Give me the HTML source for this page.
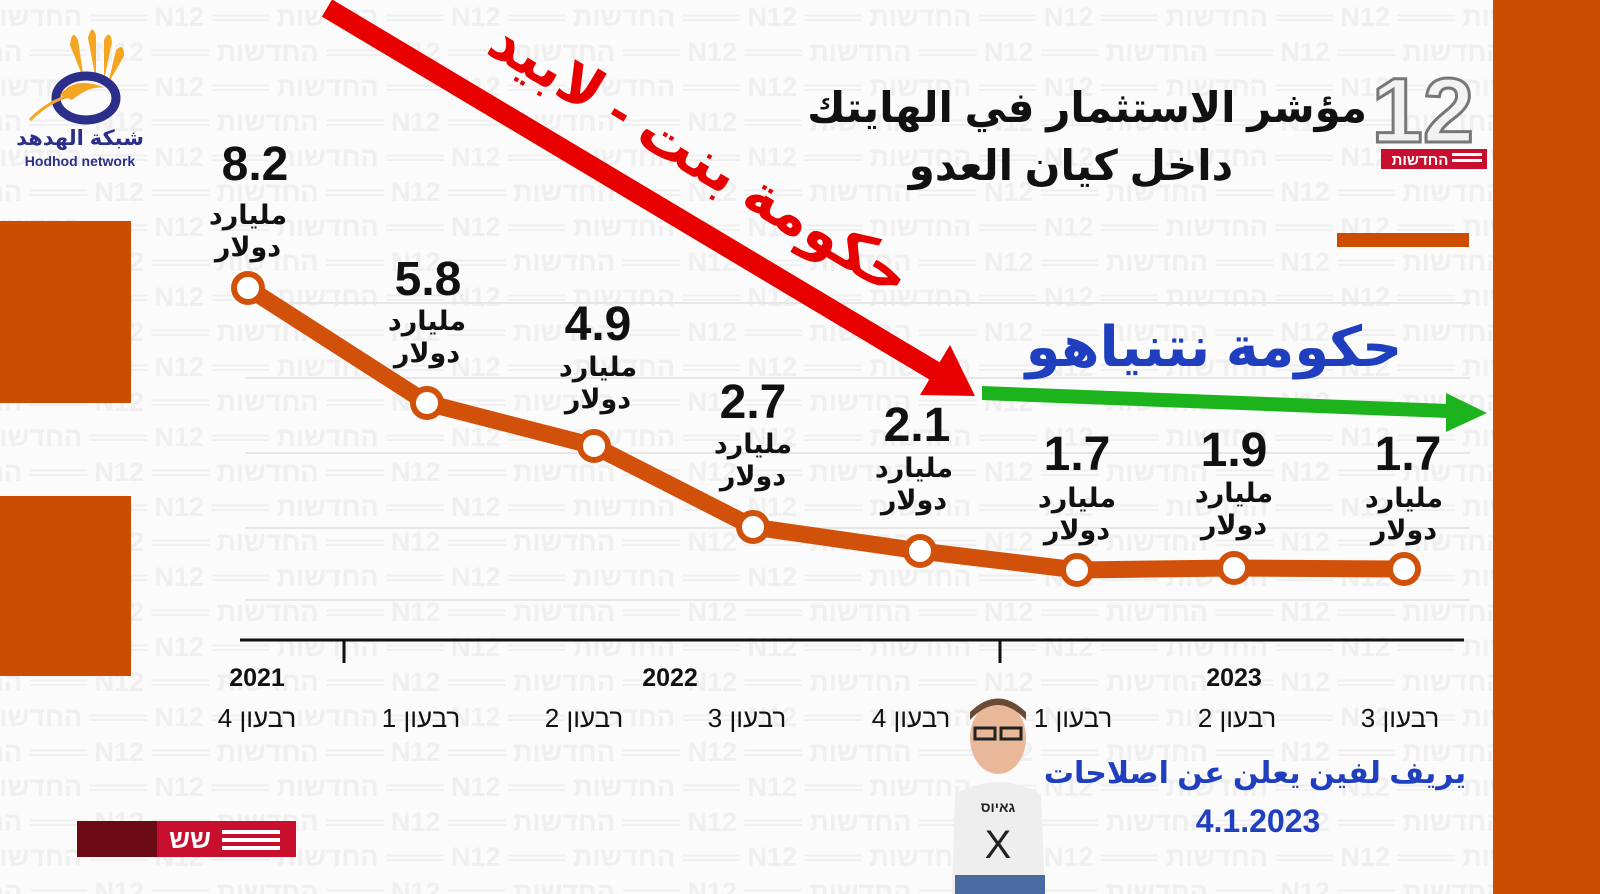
<!DOCTYPE html>
<html><head><meta charset="utf-8"><style>
html,body{margin:0;padding:0}
body{width:1600px;height:894px;overflow:hidden;background:#fbfbfb;position:relative;font-family:"Liberation Sans","DejaVu Sans",sans-serif}
.wm{position:absolute;left:0;top:0;width:1500px;height:894px;overflow:hidden;color:#efefef;font-weight:bold;font-size:27px;line-height:35px;white-space:nowrap;direction:ltr}
.wm div{height:35px}
svg{position:absolute;left:0;top:0}
</style></head><body>
<div class="wm">
<div style="margin-left:-20px">החדשות ═══ N12 ═══ החדשות ═══ N12 ═══ החדשות ═══ N12 ═══ החדשות ═══ N12 ═══ החדשות ═══ N12 ═══ החדשות ═══ N12 ═══ החדשות</div>
<div style="margin-left:-80px">החדשות ═══ N12 ═══ החדשות ═══ N12 ═══ החדשות ═══ N12 ═══ החדשות ═══ N12 ═══ החדשות ═══ N12 ═══ החדשות ═══ N12 ═══ החדשות</div>
<div style="margin-left:-20px">החדשות ═══ N12 ═══ החדשות ═══ N12 ═══ החדשות ═══ N12 ═══ החדשות ═══ N12 ═══ החדשות ═══ N12 ═══ החדשות ═══ N12 ═══ החדשות</div>
<div style="margin-left:-80px">החדשות ═══ N12 ═══ החדשות ═══ N12 ═══ החדשות ═══ N12 ═══ החדשות ═══ N12 ═══ החדשות ═══ N12 ═══ החדשות ═══ N12 ═══ החדשות</div>
<div style="margin-left:-20px">החדשות ═══ N12 ═══ החדשות ═══ N12 ═══ החדשות ═══ N12 ═══ החדשות ═══ N12 ═══ החדשות ═══ N12 ═══ החדשות ═══ N12 ═══ החדשות</div>
<div style="margin-left:-80px">החדשות ═══ N12 ═══ החדשות ═══ N12 ═══ החדשות ═══ N12 ═══ החדשות ═══ N12 ═══ החדשות ═══ N12 ═══ החדשות ═══ N12 ═══ החדשות</div>
<div style="margin-left:-20px">החדשות ═══ N12 ═══ החדשות ═══ N12 ═══ החדשות ═══ N12 ═══ החדשות ═══ N12 ═══ החדשות ═══ N12 ═══ החדשות ═══ N12 ═══ החדשות</div>
<div style="margin-left:-80px">החדשות ═══ N12 ═══ החדשות ═══ N12 ═══ החדשות ═══ N12 ═══ החדשות ═══ N12 ═══ החדשות ═══ N12 ═══ החדשות ═══ N12 ═══ החדשות</div>
<div style="margin-left:-20px">החדשות ═══ N12 ═══ החדשות ═══ N12 ═══ החדשות ═══ N12 ═══ החדשות ═══ N12 ═══ החדשות ═══ N12 ═══ החדשות ═══ N12 ═══ החדשות</div>
<div style="margin-left:-80px">החדשות ═══ N12 ═══ החדשות ═══ N12 ═══ החדשות ═══ N12 ═══ החדשות ═══ N12 ═══ החדשות ═══ N12 ═══ החדשות ═══ N12 ═══ החדשות</div>
<div style="margin-left:-20px">החדשות ═══ N12 ═══ החדשות ═══ N12 ═══ החדשות ═══ N12 ═══ החדשות ═══ N12 ═══ החדשות ═══ N12 ═══ החדשות ═══ N12 ═══ החדשות</div>
<div style="margin-left:-80px">החדשות ═══ N12 ═══ החדשות ═══ N12 ═══ החדשות ═══ N12 ═══ החדשות ═══ N12 ═══ החדשות ═══ N12 ═══ החדשות ═══ N12 ═══ החדשות</div>
<div style="margin-left:-20px">החדשות ═══ N12 ═══ החדשות ═══ N12 ═══ החדשות ═══ N12 ═══ החדשות ═══ N12 ═══ החדשות ═══ N12 ═══ החדשות ═══ N12 ═══ החדשות</div>
<div style="margin-left:-80px">החדשות ═══ N12 ═══ החדשות ═══ N12 ═══ החדשות ═══ N12 ═══ החדשות ═══ N12 ═══ החדשות ═══ N12 ═══ החדשות ═══ N12 ═══ החדשות</div>
<div style="margin-left:-20px">החדשות ═══ N12 ═══ החדשות ═══ N12 ═══ החדשות ═══ N12 ═══ החדשות ═══ N12 ═══ החדשות ═══ N12 ═══ החדשות ═══ N12 ═══ החדשות</div>
<div style="margin-left:-80px">החדשות ═══ N12 ═══ החדשות ═══ N12 ═══ החדשות ═══ N12 ═══ החדשות ═══ N12 ═══ החדשות ═══ N12 ═══ החדשות ═══ N12 ═══ החדשות</div>
<div style="margin-left:-20px">החדשות ═══ N12 ═══ החדשות ═══ N12 ═══ החדשות ═══ N12 ═══ החדשות ═══ N12 ═══ החדשות ═══ N12 ═══ החדשות ═══ N12 ═══ החדשות</div>
<div style="margin-left:-80px">החדשות ═══ N12 ═══ החדשות ═══ N12 ═══ החדשות ═══ N12 ═══ החדשות ═══ N12 ═══ החדשות ═══ N12 ═══ החדשות ═══ N12 ═══ החדשות</div>
<div style="margin-left:-20px">החדשות ═══ N12 ═══ החדשות ═══ N12 ═══ החדשות ═══ N12 ═══ החדשות ═══ N12 ═══ החדשות ═══ N12 ═══ החדשות ═══ N12 ═══ החדשות</div>
<div style="margin-left:-80px">החדשות ═══ N12 ═══ החדשות ═══ N12 ═══ החדשות ═══ N12 ═══ החדשות ═══ N12 ═══ החדשות ═══ N12 ═══ החדשות ═══ N12 ═══ החדשות</div>
<div style="margin-left:-20px">החדשות ═══ N12 ═══ החדשות ═══ N12 ═══ החדשות ═══ N12 ═══ החדשות ═══ N12 ═══ החדשות ═══ N12 ═══ החדשות ═══ N12 ═══ החדשות</div>
<div style="margin-left:-80px">החדשות ═══ N12 ═══ החדשות ═══ N12 ═══ החדשות ═══ N12 ═══ החדשות ═══ N12 ═══ החדשות ═══ N12 ═══ החדשות ═══ N12 ═══ החדשות</div>
<div style="margin-left:-20px">החדשות ═══ N12 ═══ החדשות ═══ N12 ═══ החדשות ═══ N12 ═══ החדשות ═══ N12 ═══ החדשות ═══ N12 ═══ החדשות ═══ N12 ═══ החדשות</div>
<div style="margin-left:-80px">החדשות ═══ N12 ═══ החדשות ═══ N12 ═══ החדשות ═══ N12 ═══ החדשות ═══ N12 ═══ החדשות ═══ N12 ═══ החדשות ═══ N12 ═══ החדשות</div>
<div style="margin-left:-20px">החדשות ═══ N12 ═══ החדשות ═══ N12 ═══ החדשות ═══ N12 ═══ החדשות ═══ N12 ═══ החדשות ═══ N12 ═══ החדשות ═══ N12 ═══ החדשות</div>
<div style="margin-left:-80px">החדשות ═══ N12 ═══ החדשות ═══ N12 ═══ החדשות ═══ N12 ═══ החדשות ═══ N12 ═══ החדשות ═══ N12 ═══ החדשות ═══ N12 ═══ החדשות</div>
</div>
<svg width="1600" height="894" viewBox="0 0 1600 894" font-family="Liberation Sans, DejaVu Sans, sans-serif">
<g stroke="#e6e6e6" stroke-width="2">
<line x1="245" y1="303" x2="1470" y2="303"/><line x1="245" y1="378" x2="1470" y2="378"/>
<line x1="245" y1="453" x2="1470" y2="453"/><line x1="245" y1="528" x2="1470" y2="528"/>
<line x1="245" y1="600" x2="1470" y2="600"/>
</g>
<rect x="0" y="221" width="131" height="182" fill="#cc4c02"/>
<rect x="0" y="496" width="131" height="180" fill="#cc4c02"/>
<rect x="1493" y="0" width="107" height="894" fill="#cc4c02"/>
<rect x="1337" y="233" width="132" height="14" fill="#cc4c02"/>
<g>
<path d="M70 45 Q72 28 78 40 L84 80 Z M88 38 Q92 22 96 36 L96 80 Z M104 40 Q110 28 112 42 L104 80 Z M116 50 Q124 42 124 56 L108 84 Z" fill="#f4a623"/>
<ellipse cx="86" cy="98" rx="30" ry="22" fill="none" stroke="#2c2f8a" stroke-width="9"/>
<path d="M60 95 Q75 75 105 88 Q90 85 72 100 Z" fill="#f4a623"/>
<path d="M30 120 Q50 100 70 96" stroke="#f4a623" stroke-width="3" fill="none"/>
<text x="80" y="145" font-size="21" fill="#2c2f8a" text-anchor="middle" font-weight="bold">شبكة الهدهد</text>
<text x="80" y="166" font-size="14" fill="#2c2f8a" text-anchor="middle" font-weight="bold">Hodhod network</text>
</g>
<text x="1474" y="142" font-size="92" font-weight="bold" fill="#f2f2f2" stroke="#777" stroke-width="3" text-anchor="end">12</text>
<rect x="1381" y="149" width="106" height="20" fill="#c8102e"/>
<text x="1420" y="165" font-size="15" fill="#fff" font-weight="bold" text-anchor="middle">החדשות</text>
<rect x="1452" y="153" width="30" height="3" fill="#fff"/><rect x="1452" y="159" width="30" height="3" fill="#fff"/>
<text x="1367" y="122" font-size="42" font-weight="bold" fill="#111" text-anchor="end">مؤشر الاستثمار في الهايتك</text>
<text x="1071" y="180" font-size="42" font-weight="bold" fill="#111" text-anchor="middle">داخل كيان العدو</text>
<line x1="327" y1="8" x2="938" y2="373" stroke="#e80000" stroke-width="20"/>
<polygon points="975,396 920,395 950,345" fill="#e80000"/>
<text transform="translate(690,175) rotate(31)" font-size="58" font-weight="bold" fill="#e80000" text-anchor="middle">حكومة بنت - لابيد</text>
<polygon points="982,386 1448,404 1448,418 982,400" fill="#1db31d"/>
<polygon points="1487,413 1446,393 1446,432" fill="#1db31d"/>
<text x="1214" y="366" font-size="56" font-weight="bold" fill="#1f3fbf" text-anchor="middle">حكومة نتنياهو</text>
<polyline points="248,288 427,403 594,446 753,527 920,551 1077,570 1234,568 1404,569" fill="none" stroke="#d2510a" stroke-width="17" stroke-linejoin="round"/>
<g fill="#fff" stroke="#d2510a" stroke-width="6">
<circle cx="248" cy="288" r="14"/><circle cx="427" cy="403" r="14"/><circle cx="594" cy="446" r="14"/><circle cx="753" cy="527" r="14"/><circle cx="920" cy="551" r="14"/><circle cx="1077" cy="570" r="14"/><circle cx="1234" cy="568" r="14"/><circle cx="1404" cy="569" r="14"/>
</g>
<g font-weight="bold" fill="#111" text-anchor="middle">
<g font-size="48"><text x="255" y="180">8.2</text><text x="428" y="295">5.8</text><text x="598" y="340">4.9</text><text x="753" y="418">2.7</text><text x="917" y="441">2.1</text><text x="1077" y="470">1.7</text><text x="1234" y="466">1.9</text><text x="1408" y="470">1.7</text></g>
<g font-size="27">
<text x="248" y="224">مليارد</text><text x="248" y="256">دولار</text>
<text x="427" y="330">مليارد</text><text x="427" y="362">دولار</text>
<text x="598" y="376">مليارد</text><text x="598" y="408">دولار</text>
<text x="753" y="453">مليارد</text><text x="753" y="485">دولار</text>
<text x="914" y="477">مليارد</text><text x="914" y="509">دولار</text>
<text x="1077" y="507">مليارد</text><text x="1077" y="539">دولار</text>
<text x="1234" y="502">مليارد</text><text x="1234" y="534">دولار</text>
<text x="1404" y="507">مليارد</text><text x="1404" y="539">دولار</text>
</g>
</g>
<line x1="240" y1="640" x2="1464" y2="640" stroke="#111" stroke-width="3"/>
<line x1="344" y1="640" x2="344" y2="663" stroke="#111" stroke-width="3"/>
<line x1="1000" y1="640" x2="1000" y2="663" stroke="#111" stroke-width="3"/>
<g font-weight="bold" font-size="25" fill="#111" text-anchor="middle">
<text x="257" y="686">2021</text><text x="670" y="686">2022</text><text x="1234" y="686">2023</text>
</g>
<g font-size="26" fill="#111" text-anchor="middle">
<text x="257" y="727">רבעון 4</text><text x="421" y="727">רבעון 1</text><text x="584" y="727">רבעון 2</text><text x="747" y="727">רבעון 3</text>
<text x="911" y="727">רבעון 4</text><text x="1073" y="727">רבעון 1</text><text x="1237" y="727">רבעון 2</text><text x="1400" y="727">רבעון 3</text>
</g>
<text x="1255" y="783" font-size="30" font-weight="bold" fill="#1f3fbf" text-anchor="middle">يريف لفين يعلن عن اصلاحات</text>
<text x="1258" y="832" font-size="32" font-weight="bold" fill="#1f3fbf" text-anchor="middle">4.1.2023</text>
<ellipse cx="998" cy="738" rx="28" ry="36" fill="#e8b898"/>
<path d="M970 720 Q998 690 1026 720 L1026 712 Q998 685 970 712Z" fill="#6b4a35"/>
<rect x="975" y="728" width="20" height="11" fill="none" stroke="#222" stroke-width="3"/><rect x="1001" y="728" width="20" height="11" fill="none" stroke="#222" stroke-width="3"/>
<path d="M955 794 Q998 770 1041 794 L1045 894 L952 894 Z" fill="#eee"/>
<text x="998" y="812" font-size="14" text-anchor="middle" font-weight="bold" fill="#222">גאיוס</text>
<text x="998" y="858" font-size="40" text-anchor="middle" fill="#222">X</text>
<rect x="955" y="875" width="90" height="19" fill="#4a6aa0"/>
<rect x="77" y="821" width="219" height="36" fill="#c8102e"/>
<rect x="77" y="821" width="80" height="36" fill="#6a0a12"/>
<text x="190" y="848" font-size="26" font-weight="bold" fill="#fff" text-anchor="middle">שש</text>
<rect x="222" y="830" width="58" height="4" fill="#fff"/><rect x="222" y="838" width="58" height="4" fill="#fff"/><rect x="222" y="846" width="58" height="4" fill="#fff"/>
</svg>
</body></html>
